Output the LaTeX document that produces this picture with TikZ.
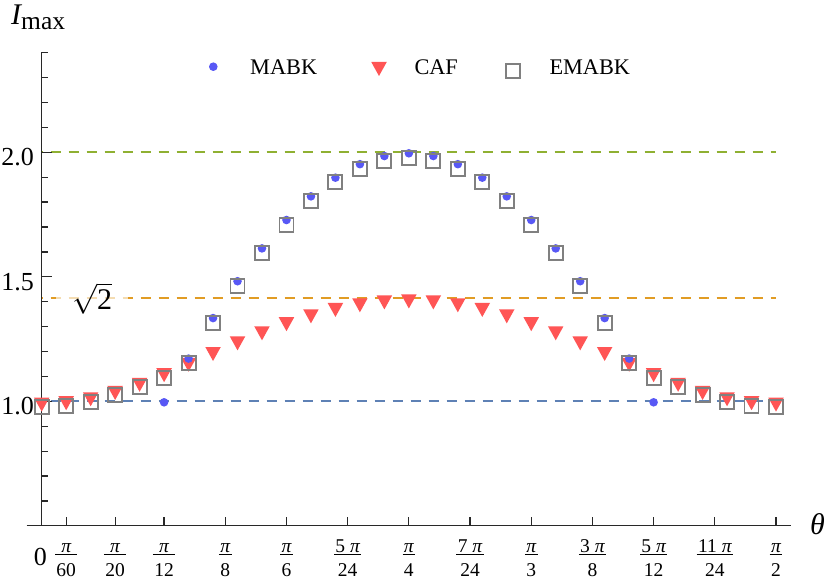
\documentclass[tikz,border=0pt]{standalone}
\usepackage{fix-cm}
\usepackage{fontspec}
\setmainfont{Liberation Serif}
\usetikzlibrary{fit}
\definecolor{mblue}{RGB}{88,88,245}
\definecolor{mred}{RGB}{255,85,85}
\definecolor{sqgray}{RGB}{128,128,128}
\definecolor{lblue}{RGB}{94,129,181}
\definecolor{lorange}{RGB}{225,156,36}
\definecolor{lgreen}{RGB}{143,176,50}
\definecolor{axcol}{RGB}{40,40,40}
\newcommand\pii{{\itshape π}}
\begin{document}
\begin{tikzpicture}[x=1pt,y=-1pt,
  axisline/.style={draw=axcol,line width=1.2pt},
  tickline/.style={draw=axcol,line width=1.2pt},
  refline/.style={line width=2pt,dash pattern=on 10pt off 8pt,dash phase=9.2pt},
  ticklab/.style={font=\fontsize{26}{26}\selectfont,inner sep=0pt},
  fracpart/.style={font=\fontsize{19.5}{19.5}\selectfont,inner sep=0pt,anchor=base},
  fracbar/.style={draw=black,line width=1.2pt},
  legtext/.style={font=\fontsize{22.3}{22.3}\selectfont,inner sep=0pt,anchor=base west},
  sqmark/.style={draw=sqgray,line width=1.9pt},
  trimark/.style={fill=mred},
  dotmark/.style={fill=mblue},
  sqm/.pic={\draw[sqmark] (-7,-7) rectangle (7,7);},
  trim/.pic={\fill[trimark] (-7.75,-7) -- (7.75,-7) -- (0,7) -- cycle;},
  dotm/.pic={\fill[dotmark] (0,0) circle (4.3pt);},
]
\fill[white] (0,0) rectangle (830,580);
\useasboundingbox (0,0) rectangle (830,580);

% reference lines
\draw[refline,lgreen] (41.7,152.3) -- (776,152.3);
\draw[refline,lorange] (41.7,298.2) -- (776,298.2);
\draw[refline,lblue] (41.7,401.3) -- (776,401.3);

% sqrt(2) label
\node[fill=white,fill opacity=0.65,text opacity=1,inner xsep=16pt,inner ysep=2pt,
      font=\fontsize{30}{30}\selectfont] (s2) at (92,298.3) {$\sqrt{\mbox{2}}$};

% axes
\draw[axisline] (26.7,525.7) -- (790.7,525.7);
\draw[axisline] (41.7,525.7) -- (41.7,52.3);
\foreach \i in {1,...,19} {
  \pgfmathsetmacro\yy{525.8-24.9*\i}
  \pgfmathtruncatemacro\mm{mod(\i,5)}
  \ifnum\mm=0
    \draw[tickline] (41.7,\yy) -- ++(10,0);
  \else
    \draw[tickline] (41.7,\yy) -- ++(6,0);
  \fi
}
\foreach \d in {3,9,15,22.5,30,37.5,45,52.5,60,67.5,75,82.5,90} {
  \draw[tickline] ({41.7+8.159*\d},525.7) -- ++(0,-9);
}

% tick labels
\node[ticklab,anchor=base east] (y10) at (34,414.9) {1.0};
\node[ticklab,anchor=base east] (y15) at (34,290.4) {1.5};
\node[ticklab,anchor=base east] (y20) at (34,165.9) {2.0};
\node[ticklab,anchor=base] (x0) at (40.5,565.7) {0};

\coordinate (barline) at (0,554.3);
\foreach \d/\fn/\fd [count=\k] in {3/\pii/60, 9/\pii/20, 15/\pii/12, 22.5/\pii/8,
   30/\pii/6, 37.5/{5 \pii}/24, 45/\pii/4, 52.5/{7 \pii}/24, 60/\pii/3,
   67.5/{3 \pii}/8, 75/{5 \pii}/12, 82.5/{11 \pii}/24, 90/\pii/2} {
  \pgfmathsetmacro\xx{41.7+8.159*\d}
  \node[fracpart] (n\k) at (\xx,552) {\fn};
  \node[fracpart] (d\k) at (\xx,576.6) {\fd};
  \node[fit=(n\k)(d\k),inner xsep=1pt,inner ysep=0pt] (f\k) {};
  \draw[fracbar] (f\k.west |- barline) -- (f\k.east |- barline);
}

% axis labels
\node[anchor=base west,inner sep=0pt] (ylab) at (11,25)
  {\fontsize{30}{30}\selectfont\itshape I\upshape\fontsize{25.5}{25.5}\selectfont\raisebox{-4.3pt}{max}};
\node[anchor=base west,inner sep=0pt,font=\fontsize{30}{30}\selectfont\itshape] (thlab) at (810,534) {θ};

% data: CAF
\foreach \t in {0,3,...,90} {
  \pgfmathsetmacro\xx{41.7+8.159*\t}
  \pgfmathsetmacro\cv{sqrt(1+(sin(2*\t))^2)}
  \pic at (\xx,{650.3-249*\cv+3.3}) {trim};
}
% data: MABK
\foreach \t in {15,18,...,75} {
  \pgfmathsetmacro\xx{41.7+8.159*\t}
  \pgfmathsetmacro\mv{2*sin(2*\t)}
  \pic at (\xx,{650.3-249*\mv+1}) {dotm};
}
% data: EMABK
\foreach \t in {0,3,...,90} {
  \pgfmathsetmacro\xx{41.7+8.159*\t}
  \pgfmathsetmacro\cv{sqrt(1+(sin(2*\t))^2)}
  \pgfmathsetmacro\mv{2*sin(2*\t)}
  \pgfmathsetmacro\ev{max(\mv,\cv)}
  \pic at (\xx,{650.3-249*\ev+5.7}) {sqm};
}

% legend
\pic at (213.3,66.7) {dotm};
\node[legtext] (lm) at (250,74.3) {MABK};
\pic at (379,69) {trim};
\node[legtext] (lc) at (414.3,74.3) {CAF};
\pic at (513.3,70.8) {sqm};
\node[legtext] (le) at (549.3,74.3) {EMABK};
\end{tikzpicture}
\end{document}
